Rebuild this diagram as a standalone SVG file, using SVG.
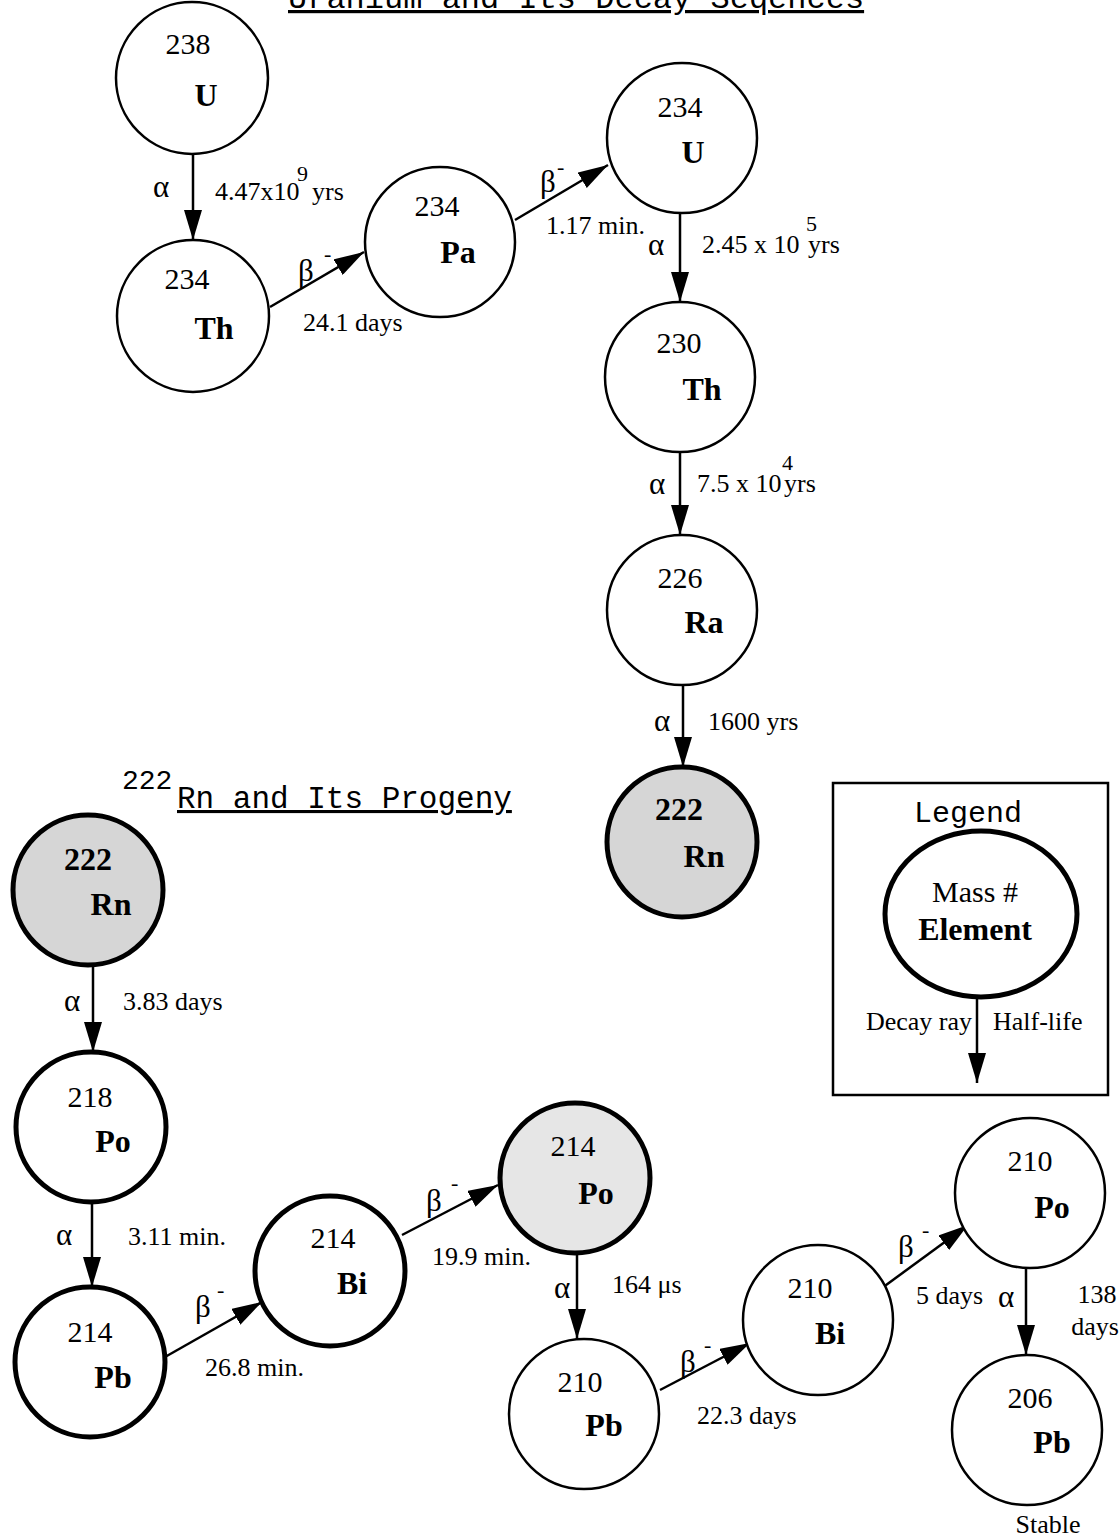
<svg xmlns="http://www.w3.org/2000/svg" width="1120" height="1539" viewBox="0 0 1120 1539">
<defs>
<style>
.n{fill:#fff;stroke:#000;stroke-width:2.5}
.k{stroke-width:5}
.g{fill:#d6d6d6}
.m{font-family:"Liberation Serif","Times New Roman",serif;font-size:30px;text-anchor:middle;fill:#000}
.e{font-family:"Liberation Serif","Times New Roman",serif;font-size:32px;font-weight:bold;text-anchor:middle;fill:#000}
.l{font-family:"Liberation Serif","Times New Roman",serif;font-size:26px;fill:#000}
.gr{font-size:31px}
.s{font-size:22px}
.c{font-family:"Liberation Mono","Courier New",monospace;fill:#000}
.a{stroke:#000;stroke-width:2.5;fill:none;marker-end:url(#ah)}
</style>
<marker id="ah" markerUnits="userSpaceOnUse" markerWidth="30" markerHeight="18" refX="30" refY="9" orient="auto"><path d="M0,0 L30,9 L0,18 z" fill="#000"/></marker>
</defs>
<rect width="1120" height="1539" fill="#fff"/>
<text class="c" x="288" y="8" font-size="32" text-decoration="underline">Uranium and Its Decay Seqences</text>
<text class="c" x="122" y="789" font-size="28">222</text>
<text class="c" x="177" y="808" font-size="31" text-decoration="underline">Rn and Its Progeny</text>

<g id="connectors">
<line class="a" x1="193" y1="154" x2="193" y2="240"/>
<line class="a" x1="270" y1="307" x2="364" y2="252"/>
<line class="a" x1="515" y1="220" x2="608" y2="165"/>
<line class="a" x1="680" y1="213" x2="680" y2="302"/>
<line class="a" x1="680" y1="452" x2="680" y2="535"/>
<line class="a" x1="683" y1="685" x2="683" y2="767"/>
<line class="a" x1="93" y1="966" x2="93" y2="1052"/>
<line class="a" x1="92" y1="1203" x2="92" y2="1287"/>
<line class="a" x1="165" y1="1357" x2="262" y2="1302"/>
<line class="a" x1="402" y1="1235" x2="498" y2="1185"/>
<line class="a" x1="577" y1="1254" x2="577" y2="1339"/>
<line class="a" x1="660" y1="1390" x2="750" y2="1343"/>
<line class="a" x1="882" y1="1288" x2="968" y2="1225"/>
<line class="a" x1="1026" y1="1268" x2="1026" y2="1355"/>
</g>

<g id="edge-labels">
<text class="l gr" x="153" y="197">α</text>
<text class="l" x="215" y="200">4.47x10</text><text class="l s" x="297" y="181">9</text><text class="l" x="312" y="200">yrs</text>
<text class="l gr" x="298" y="281">β</text><text class="l s" x="324" y="261">-</text>
<text class="l" x="303" y="331">24.1 days</text>
<text class="l gr" x="540" y="192">β</text><text class="l s" x="557" y="174">-</text>
<text class="l" x="546" y="234">1.17 min.</text>
<text class="l gr" x="648" y="255">α</text>
<text class="l" x="702" y="253">2.45 x 10</text><text class="l s" x="806" y="231">5</text><text class="l" x="808" y="253">yrs</text>
<text class="l gr" x="649" y="494">α</text>
<text class="l" x="697" y="492">7.5 x 10</text><text class="l s" x="782" y="470">4</text><text class="l" x="784" y="492">yrs</text>
<text class="l gr" x="654" y="731">α</text>
<text class="l" x="708" y="730">1600 yrs</text>
<text class="l gr" x="64" y="1011">α</text>
<text class="l" x="123" y="1010">3.83 days</text>
<text class="l gr" x="56" y="1245">α</text>
<text class="l" x="128" y="1245">3.11 min.</text>
<text class="l gr" x="195" y="1317">β</text><text class="l s" x="217" y="1297">-</text>
<text class="l" x="205" y="1376">26.8 min.</text>
<text class="l gr" x="426" y="1211">β</text><text class="l s" x="451" y="1190">-</text>
<text class="l" x="432" y="1265">19.9 min.</text>
<text class="l gr" x="554" y="1298">α</text>
<text class="l" x="612" y="1293">164 μs</text>
<text class="l gr" x="680" y="1372">β</text><text class="l s" x="704" y="1352">-</text>
<text class="l" x="697" y="1424">22.3 days</text>
<text class="l gr" x="898" y="1257">β</text><text class="l s" x="922" y="1237">-</text>
<text class="l" x="916" y="1304">5 days</text>
<text class="l gr" x="998" y="1307">α</text>
<text class="l" x="1097" y="1303" text-anchor="middle">138</text>
<text class="l" x="1095" y="1335" text-anchor="middle">days</text>
<text class="l" x="1048" y="1533" font-size="30" text-anchor="middle">Stable</text>
</g>

<g id="n-u238"><circle class="n" cx="192" cy="78" r="76"/><text class="m" x="188" y="54">238</text><text class="e" x="206" y="106">U</text></g>
<g id="n-th234"><circle class="n" cx="193" cy="316" r="76"/><text class="m" x="187" y="289">234</text><text class="e" x="214" y="339">Th</text></g>
<g id="n-pa234"><circle class="n" cx="440" cy="242" r="75"/><text class="m" x="437" y="216">234</text><text class="e" x="458" y="263">Pa</text></g>
<g id="n-u234"><circle class="n" cx="682" cy="138" r="75"/><text class="m" x="680" y="117">234</text><text class="e" x="693" y="163">U</text></g>
<g id="n-th230"><circle class="n" cx="680" cy="377" r="75"/><text class="m" x="679" y="353">230</text><text class="e" x="702" y="400">Th</text></g>
<g id="n-ra226"><circle class="n" cx="682" cy="610" r="75"/><text class="m" x="680" y="588">226</text><text class="e" x="704" y="633">Ra</text></g>
<g id="n-rn222a"><circle class="n k g" cx="682" cy="842" r="75"/><text class="e" x="679" y="820" font-size="30">222</text><text class="e" x="704" y="867">Rn</text></g>

<g id="n-rn222b"><circle class="n k g" cx="88" cy="890" r="75"/><text class="e" x="88" y="870" font-size="30">222</text><text class="e" x="111" y="915">Rn</text></g>
<g id="n-po218"><circle class="n k" cx="91" cy="1127" r="75"/><text class="m" x="90" y="1107">218</text><text class="e" x="113" y="1152">Po</text></g>
<g id="n-pb214"><circle class="n k" cx="90" cy="1362" r="75"/><text class="m" x="90" y="1342">214</text><text class="e" x="113" y="1388">Pb</text></g>
<g id="n-bi214"><circle class="n k" cx="330" cy="1271" r="75"/><text class="m" x="333" y="1248">214</text><text class="e" x="352" y="1294">Bi</text></g>
<g id="n-po214"><circle class="n k" cx="575" cy="1178" r="75" style="fill:#e6e6e6"/><text class="m" x="573" y="1156">214</text><text class="e" x="596" y="1204">Po</text></g>
<g id="n-pb210"><circle class="n" cx="584" cy="1414" r="75"/><text class="m" x="580" y="1392">210</text><text class="e" x="604" y="1436">Pb</text></g>
<g id="n-bi210"><circle class="n" cx="818" cy="1320" r="75"/><text class="m" x="810" y="1298">210</text><text class="e" x="830" y="1344">Bi</text></g>
<g id="n-po210"><circle class="n" cx="1030" cy="1193" r="75"/><text class="m" x="1030" y="1171">210</text><text class="e" x="1052" y="1218">Po</text></g>
<g id="n-pb206"><circle class="n" cx="1027" cy="1430" r="75"/><text class="m" x="1030" y="1408">206</text><text class="e" x="1052" y="1453">Pb</text></g>

<g id="legend">
<rect x="833" y="783" width="275" height="312" fill="none" stroke="#000" stroke-width="2.5"/>
<text class="c" x="968" y="822" font-size="30" text-anchor="middle">Legend</text>
<ellipse cx="981" cy="914" rx="96" ry="83" fill="#fff" stroke="#000" stroke-width="5"/>
<text class="m" x="975" y="902">Mass #</text>
<text class="e" x="975" y="940" font-size="30">Element</text>
<line class="a" x1="977" y1="997" x2="977" y2="1083"/>
<text class="l" x="972" y="1030" text-anchor="end">Decay ray</text>
<text class="l" x="993" y="1030">Half-life</text>
</g>
</svg>
